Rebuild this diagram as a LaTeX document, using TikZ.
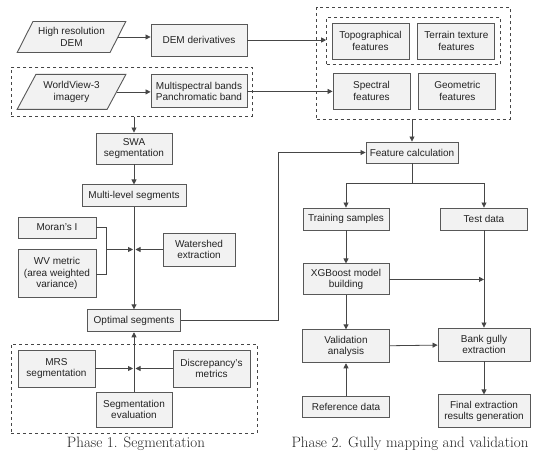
\documentclass[tikz,border=0pt]{standalone}
\usepackage{fontspec}
\setsansfont{Liberation Sans}
\usepackage{xcolor}
\usepackage{tikz}
\usetikzlibrary{arrows.meta, positioning, fit, calc, shapes.geometric}
\definecolor{boxFill}{RGB}{242,242,242}
\definecolor{boxLine}{RGB}{88,88,88}
\definecolor{lineInk}{RGB}{70,70,70}
\definecolor{textInk}{RGB}{35,35,35}
\tikzset{
  procbox/.style={
    draw=boxLine,
    line width=0.9pt,
    fill=boxFill,
    align=center,
    inner sep=1pt,
    text=textInk,
    font=\sffamily\fontsize{10}{11.5}\selectfont
  },
  datain/.style={
    procbox,
    trapezium,
    trapezium left angle=56,
    trapezium right angle=124,
    trapezium stretches=true,
    minimum width=109pt
  },
  group/.style={
    draw=lineInk,
    dashed,
    line width=0.7pt
  },
  arr/.style={-{Triangle[length=5pt,width=5pt]}, line width=0.8pt, draw=lineInk},
  link/.style={line width=0.8pt, draw=lineInk},
  caption/.style={font=\fontsize{15}{18}\selectfont, text=textInk}
}
\begin{document}
\begin{tikzpicture}[x=1pt, y=-1pt, node distance=10pt and 8pt]
  \useasboundingbox (0,0) rectangle (550,459);
  % phase 1: inputs
  \node[datain, minimum height=31pt] (dem) at (71.5,37) {High resolution\\DEM};
  \node[procbox, minimum width=96pt, minimum height=32pt] (demder) at (199,40) {DEM derivatives};
  \node[datain, below=21pt of dem, minimum height=35pt] (wv3) {WorldView-3\\imagery};
  \node[procbox, below=18pt of demder, minimum width=96pt, minimum height=33pt] (bands) {Multispectral bands\\Panchromatic band};
  \node[group, fit=(wv3.bottom left corner)(wv3.top right corner)(bands), inner xsep=5pt, inner ysep=6.5pt] (grpwv) {};

  % phase 1: segmentation
  \node[procbox, minimum width=76pt, minimum height=31pt] (swa) at (134,148.5) {SWA\\segmentation};
  \node[procbox, below=20pt of swa, minimum width=104pt, minimum height=22pt] (multilevel) {Multi-level segments};
  \node[procbox, minimum width=78pt, minimum height=21pt] (moran) at (57,227.5) {Moran's I};
  \node[procbox, below=11pt of moran, minimum width=78pt, minimum height=48pt] (wvmetric) {WV metric\\(area weighted\\variance)};
  \node[procbox, minimum width=72pt, minimum height=33pt] (watershed) at (199,249.5) {Watershed\\extraction};
  \node[procbox, below=102pt of multilevel, minimum width=93pt, minimum height=22pt] (optimal) {Optimal segments};

  \node[procbox, minimum width=77pt, minimum height=37pt] (mrs) at (56.5,368.5) {MRS\\segmentation};
  \node[procbox, minimum width=77pt, minimum height=37pt] (discrep) at (211.5,368.5) {Discrepancy's\\metrics};
  \node[procbox, minimum width=76pt, minimum height=35pt] (segeval) at (134,409.5) {Segmentation\\evaluation};
  \node[group, fit=(mrs)(discrep)(segeval), inner xsep=6.5pt, inner ysep=5.5pt] (grpeval) {};

  % phase 2: features
  \node[procbox, minimum width=77pt, minimum height=36pt] (topo) at (370.5,41) {Topographical\\features};
  \node[procbox, right=of topo, minimum width=77pt, minimum height=36pt] (terrain) {Terrain texture\\features};
  \node[procbox, minimum width=77pt, minimum height=36pt] (spectral) at (371.5,91) {Spectral\\features};
  \node[procbox, right=of spectral, minimum width=77pt, minimum height=36pt] (geometric) {Geometric\\features};
  \node[group, fit=(topo)(terrain), inner sep=5pt] (grptex) {};
  \node[group, fit=(grptex)(spectral)(geometric), inner sep=9.5pt] (grpfeat) {};

  % phase 2: mapping and validation
  \node[procbox, minimum width=92pt, minimum height=21pt] (featcalc) at (412,152.5) {Feature calculation};
  \node[procbox, minimum width=86pt, minimum height=22pt] (training) at (346,219) {Training samples};
  \node[procbox, minimum width=87pt, minimum height=22pt] (testdata) at (484,219) {Test data};
  \node[procbox, below=33pt of training, minimum width=86pt, minimum height=31pt] (xgb) {XGBoost model\\building};
  \node[procbox, below=34pt of xgb, minimum width=87pt, minimum height=33pt] (valid) {Validation\\analysis};
  \node[procbox, below=33pt of valid, minimum width=87pt, minimum height=21pt] (refdata) {Reference data};
  \node[procbox, minimum width=92pt, minimum height=33pt] (bank) at (484,344.5) {Bank gully\\extraction};
  \node[procbox, below=33pt of bank, minimum width=92pt, minimum height=33pt] (final) {Final extraction\\results generation};

  \node[caption] (cap1) at (136,444) {Phase 1. Segmentation};
  \node[caption] (cap2) at (410,444) {Phase 2. Gully mapping and validation};

  % junctions
  \coordinate (jw) at (multilevel.south |- watershed.west);
  \coordinate (brk) at ($(moran.east |- jw)+(10,0)$);
  \coordinate (je) at (segeval.north |- mrs.east);

  \draw[arr] (dem.east) -- (dem.east -| demder.west);
  \draw[arr] (demder.east) -- (demder.east -| grptex.west);
  \draw[arr] (wv3.east) -- (wv3.east -| bands.west);
  \draw[arr] (bands.east) -- (bands.east -| spectral.west);
  \draw[arr] (grpwv.south -| swa.north) -- (swa.north);
  \draw[arr] (swa) -- (multilevel);
  \draw[arr] (multilevel) -- (optimal);
  \draw[link] (moran.east) -| (brk) |- (wvmetric.east);
  \draw[arr, shorten >=1pt] (brk) -- (jw);
  \draw[arr, shorten >=1.5pt] (watershed.west) -- (jw);
  \draw[arr] (segeval) -- (optimal);
  \draw[arr, shorten >=1pt] (mrs.east) -- (je);
  \draw[arr, shorten >=1.5pt] (discrep.west) -- (je);
  \draw[arr] (optimal.east) -- ++(97,0) |- (featcalc.west);
  \draw[arr] (grpfeat.south -| featcalc.north) -- (featcalc.north);
  \draw[link] (featcalc.south) -- ++(0,20) coordinate (fork);
  \draw[arr] (fork) -| (training.north);
  \draw[arr] (fork) -| (testdata.north);
  \draw[arr] (training) -- (xgb);
  \draw[arr] (xgb.east) -- (xgb.east -| testdata.south);
  \draw[arr] (testdata) -- (bank);
  \draw[arr] (xgb) -- (valid);
  \draw[arr] (refdata) -- (valid);
  \draw[arr] (valid) -- (bank);
  \draw[arr] (bank) -- (final);
\end{tikzpicture}
\end{document}
